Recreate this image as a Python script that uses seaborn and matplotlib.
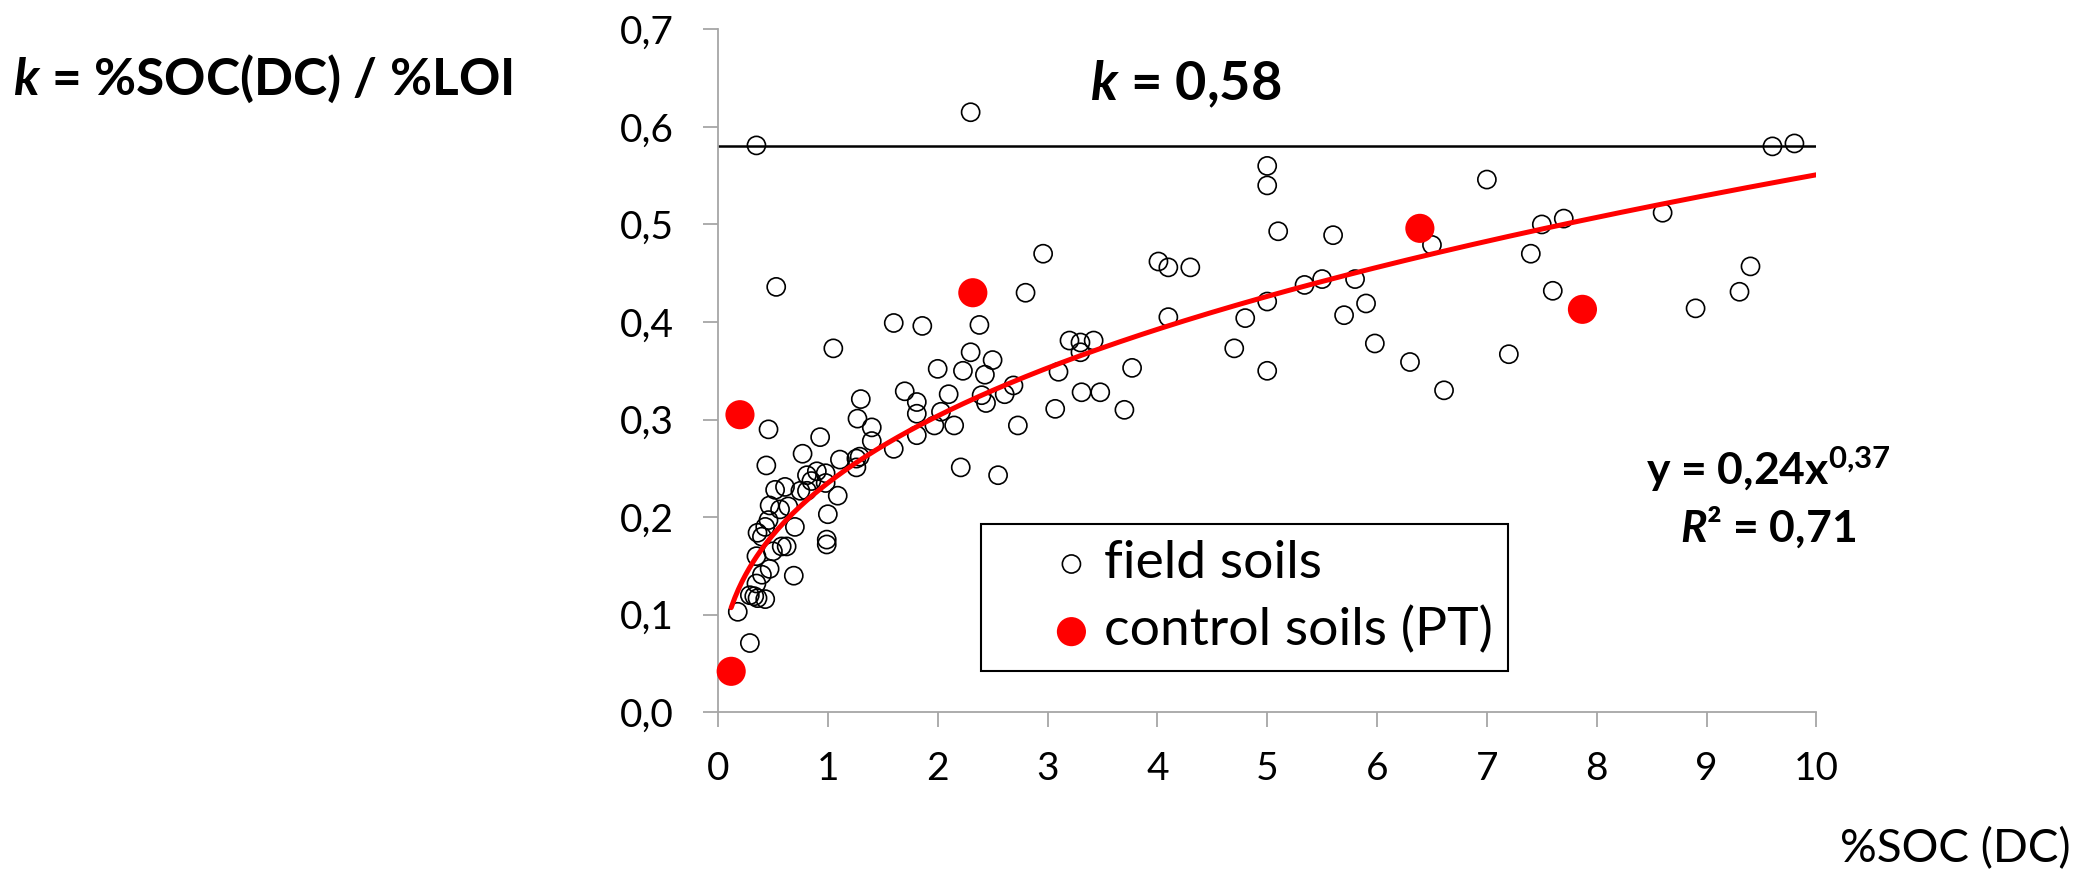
import numpy as np
import pandas as pd
import matplotlib
matplotlib.use("Agg")
import matplotlib.pyplot as plt
import seaborn as sns

# ---------------- data ----------------
field_x = [0.35, 2.30, 9.60, 9.80, 5.00, 5.00, 7.00, 5.10, 5.60, 6.50,
           7.50, 7.70, 8.60, 7.40, 2.96, 0.53, 2.80, 4.01, 4.10, 4.30,
           5.34, 5.50, 5.80, 5.00, 5.90, 5.70, 4.80, 4.10, 7.60, 9.40,
           9.30, 8.90, 1.60, 1.86, 2.38, 1.05, 3.20, 3.30, 3.42, 3.30,
           4.70, 2.30, 2.50, 5.98, 6.30, 7.20, 3.77, 2.00, 2.23, 2.43,
           3.10, 5.00, 6.61, 3.31, 3.48, 2.69, 2.61, 2.40, 2.44, 2.10,
           1.70, 1.81, 1.81, 2.03, 1.97, 2.15, 3.07, 3.70, 2.73, 1.81,
           1.60, 2.21, 2.55, 1.30, 1.27, 1.40, 1.40, 1.11, 1.26, 1.29,
           1.26, 0.93, 0.77, 0.46, 0.44, 0.81, 0.90, 0.98, 0.85, 0.98,
           0.61, 0.52, 0.75, 0.81, 1.09, 1.00, 0.47, 0.64, 0.565, 0.70,
           0.46, 0.36, 0.43, 0.40, 0.625, 0.50, 0.58, 0.99, 0.99, 0.35,
           0.47, 0.40, 0.69, 0.35, 0.33, 0.36, 0.43, 0.29, 0.18, 0.29]
field_y = [0.581, 0.615, 0.580, 0.583, 0.560, 0.540, 0.546, 0.493, 0.489, 0.479,
           0.500, 0.506, 0.512, 0.470, 0.470, 0.436, 0.430, 0.462, 0.456, 0.456,
           0.438, 0.444, 0.444, 0.421, 0.419, 0.407, 0.404, 0.405, 0.432, 0.457,
           0.431, 0.414, 0.399, 0.396, 0.397, 0.373, 0.381, 0.379, 0.381, 0.369,
           0.373, 0.369, 0.361, 0.378, 0.359, 0.367, 0.353, 0.352, 0.350, 0.346,
           0.349, 0.350, 0.330, 0.328, 0.328, 0.335, 0.326, 0.325, 0.317, 0.326,
           0.329, 0.318, 0.306, 0.308, 0.294, 0.294, 0.311, 0.310, 0.294, 0.284,
           0.270, 0.251, 0.243, 0.321, 0.301, 0.292, 0.278, 0.259, 0.260, 0.262,
           0.251, 0.282, 0.265, 0.290, 0.253, 0.243, 0.247, 0.245, 0.237, 0.235,
           0.231, 0.228, 0.227, 0.227, 0.222, 0.203, 0.212, 0.211, 0.208, 0.190,
           0.197, 0.184, 0.190, 0.180, 0.170, 0.165, 0.170, 0.177, 0.172, 0.160,
           0.147, 0.141, 0.140, 0.132, 0.119, 0.117, 0.116, 0.120, 0.103, 0.071]

control_x = [0.20, 0.12, 2.32, 6.39, 7.87]
control_y = [0.305, 0.042, 0.430, 0.496, 0.413]

k_const = 0.58
fit_coef = 0.235       # drawn power trend line (label shows rounded 0.24)
fit_exp = 0.37
fit_xmin, fit_xmax = 0.12, 10.0

x_ticks = [0, 1, 2, 3, 4, 5, 6, 7, 8, 9, 10]
x_tick_labels = ["0", "1", "2", "3", "4", "5", "6", "7", "8", "9", "10"]
y_ticks = [0.0, 0.1, 0.2, 0.3, 0.4, 0.5, 0.6, 0.7]
y_tick_labels = ["0,0", "0,1", "0,2", "0,3", "0,4", "0,5", "0,6", "0,7"]

series_labels = ["field soils", "control soils (PT)"]

# ---------------- style ----------------
sns.set_theme(style="white")
plt.rcParams["font.family"] = ["Lato", "DejaVu Sans"]
plt.rcParams["text.color"] = "black"
plt.rcParams["axes.labelcolor"] = "black"
plt.rcParams["xtick.color"] = "black"
plt.rcParams["ytick.color"] = "black"
plt.rcParams["mathtext.fontset"] = "custom"
plt.rcParams["mathtext.rm"] = "Lato:bold"
plt.rcParams["mathtext.bf"] = "Lato:bold"
plt.rcParams["mathtext.it"] = "Lato:italic:bold"

W, H = 2078, 880
fig = plt.figure(figsize=(W / 100, H / 100), dpi=100)
fig.patch.set_facecolor("white")

ax_l, ax_r, ax_t, ax_b = 718, 1816.4, 29.3, 712.3
ax = fig.add_axes([ax_l / W, 1 - ax_b / H, (ax_r - ax_l) / W, (ax_b - ax_t) / H])
ax.set_facecolor("white")

field_df = pd.DataFrame({"x": field_x, "y": field_y})
control_df = pd.DataFrame({"x": control_x, "y": control_y})

sns.scatterplot(data=field_df, x="x", y="y", ax=ax, marker="o", s=170,
                facecolor="none", edgecolor="black", linewidth=1.2,
                label=series_labels[0], zorder=2, clip_on=False)

fit_x = np.linspace(fit_xmin, fit_xmax, 300)
fit_df = pd.DataFrame({"x": fit_x, "y": fit_coef * fit_x ** fit_exp})
sns.lineplot(data=fit_df, x="x", y="y", ax=ax, color="#FF0000", linewidth=3.6,
             zorder=3, label="_nolegend_", legend=False)

ax.axhline(k_const, xmin=0, xmax=1, color="black", linewidth=1.8, zorder=1)

sns.scatterplot(data=control_df, x="x", y="y", ax=ax, marker="o", s=440,
                color="#FF0000", edgecolor="none", linewidth=0,
                label=series_labels[1], zorder=4, clip_on=False)

ax.set_xlim(0, 10)
ax.set_ylim(0, 0.7)
ax.set_xticks(x_ticks)
ax.set_xticklabels(x_tick_labels)
ax.set_yticks(y_ticks)
ax.set_yticklabels(y_tick_labels)
ax.set_xlabel("")
ax.set_ylabel("")

for side in ["top", "right"]:
    ax.spines[side].set_visible(False)
for side in ["left", "bottom"]:
    ax.spines[side].set_color("#A6A6A6")
    ax.spines[side].set_linewidth(1.3)

ax.tick_params(axis="both", which="major", direction="out", length=10.8,
               width=1.3, color="#A6A6A6", labelsize=28, labelcolor="black")
ax.tick_params(axis="x", pad=17, bottom=True)
ax.tick_params(axis="y", pad=21, left=True)

# legend
handles, labels = ax.get_legend_handles_labels()
keep = [(h, l) for h, l in zip(handles, labels) if l in series_labels]
leg = ax.legend([h for h, _ in keep], [l for _, l in keep],
                loc="upper left", bbox_to_anchor=(0.239, 0.2757),
                borderaxespad=0, frameon=True, fancybox=False,
                edgecolor="black", framealpha=1, fontsize=38.5,
                borderpad=0.3, handlelength=2.8, handletextpad=-0.8,
                labelspacing=0.36)
leg.get_frame().set_linewidth(1.5)
for t in leg.get_texts():
    t.set_color("black")

# texts
fig.text(13 / W, 1 - 95 / H, r"$\mathit{k}$ = %SOC(DC) / %LOI",
         fontsize=37, fontweight="bold", ha="left", va="baseline", color="black")

ax.text((1090 - ax_l) / 109.84, (ax_b - 100) / 975.7, r"$\mathit{k}$ = 0,58",
        fontsize=39, fontweight="bold", ha="left", va="baseline", color="black")

ax.text((1768 - ax_l) / 109.84, (ax_b - 485) / 975.7, r"y = 0,24x$^{0{,}37}$",
        fontsize=32, fontweight="bold", ha="center", va="baseline", color="black")
ax.text((1768 - ax_l) / 109.84, (ax_b - 542) / 975.7, r"$\mathit{R}$² = 0,71",
        fontsize=32, fontweight="bold", ha="center", va="baseline", color="black")

fig.text(1840 / W, 1 - 862 / H, "%SOC (DC)", fontsize=33, ha="left",
         va="baseline", color="black")

fig.savefig("out.png", dpi=100, facecolor="white")
